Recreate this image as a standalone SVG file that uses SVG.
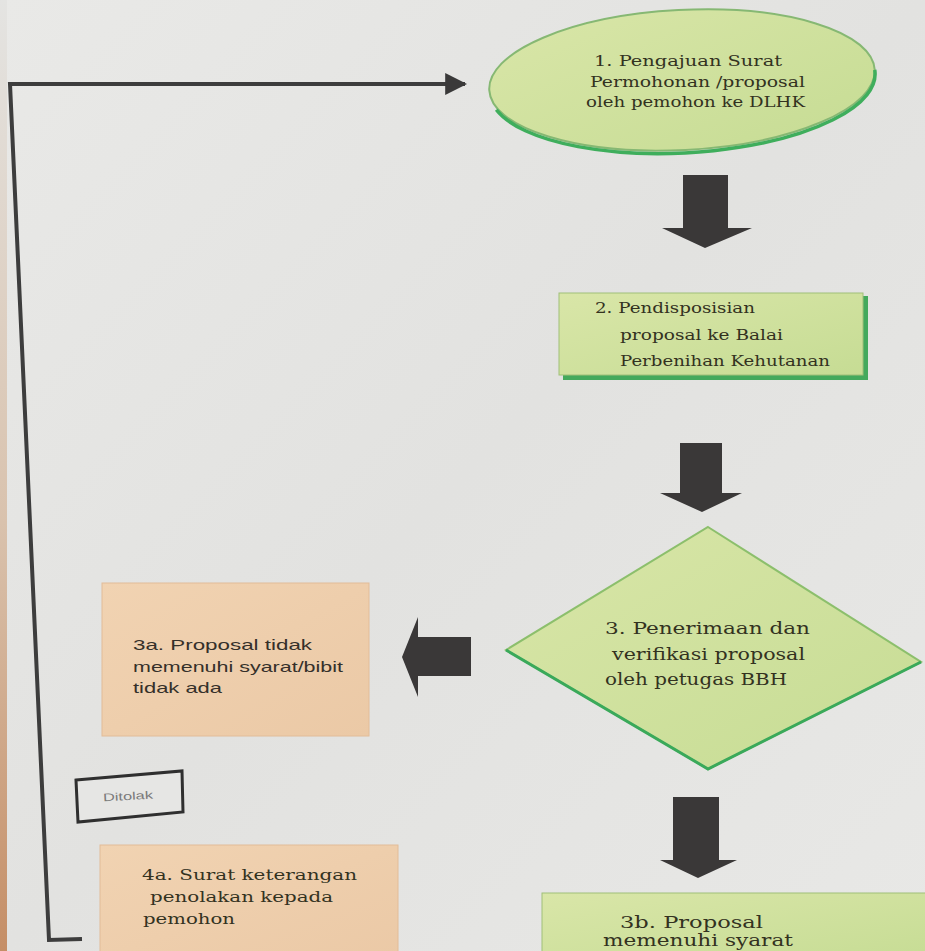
<svg xmlns="http://www.w3.org/2000/svg" width="925" height="951" viewBox="0 0 925 951">
  <defs>
    <linearGradient id="bg" x1="0" y1="0" x2="1" y2="1">
      <stop offset="0" stop-color="#e9e9e7"/>
      <stop offset="0.5" stop-color="#e2e2e0"/>
      <stop offset="1" stop-color="#e8e8e6"/>
    </linearGradient>
    <linearGradient id="green" x1="0" y1="0" x2="1" y2="1">
      <stop offset="0" stop-color="#d9e6a8"/>
      <stop offset="1" stop-color="#c6dc94"/>
    </linearGradient>
    <linearGradient id="peach" x1="0" y1="0" x2="1" y2="1">
      <stop offset="0" stop-color="#f1d3b2"/>
      <stop offset="1" stop-color="#ebc9a6"/>
    </linearGradient>
    <linearGradient id="strip" x1="0" y1="0" x2="0" y2="1">
      <stop offset="0" stop-color="#e4e4e2"/>
      <stop offset="0.55" stop-color="#d9c2ad"/>
      <stop offset="1" stop-color="#c58e66"/>
    </linearGradient>
    <marker id="head" viewBox="0 0 10 10" refX="9" refY="5" markerWidth="5.5" markerHeight="5.5" markerUnits="strokeWidth" orient="auto">
      <path d="M0,0 L10,5 L0,10 Z" fill="#3a3939"/>
    </marker>
    <style>
      .serif { font-family: "DejaVu Serif", "Liberation Serif", serif; fill: #33321f; }
      .sans { font-family: "Liberation Sans", Arial, sans-serif; fill: #35302a; }
      .blk { fill: #3a3838; }
      .conn { fill: none; stroke: #3d3d3d; stroke-width: 4; stroke-linejoin: miter; }
    </style>
  </defs>

  <rect width="925" height="951" fill="url(#bg)"/>
  <rect x="0" y="0" width="7" height="951" fill="url(#strip)"/>

  <g id="connectors">
    <polyline class="conn" points="82,939 49,940 10,84 465,84" marker-end="url(#head)"/>
    <polygon class="blk" points="683,175 728,175 728,228 752,228 705,248 662,228 683,228"/>
    <polygon class="blk" points="680,443 722,443 722,493 742,493 702,512 660,493 680,493"/>
    <polygon class="blk" points="471,637 471,676 418,676 418,697 402,657 418,617 418,637"/>
    <polygon class="blk" points="673,797 719,797 719,860 737,860 698,878 660,860 673,860"/>
  </g>

  <g id="node1">
    <g transform="rotate(-3 682 80)">
      <ellipse cx="682" cy="80" rx="193" ry="70" fill="url(#green)" stroke="#86b873" stroke-width="2"/>
      <path d="M 495 100 A 193 70 0 0 0 875 80" fill="none" stroke="#3fae5c" stroke-width="3.5"/>
    </g>
    <text class="serif" font-size="15" x="594" y="66" textLength="188" lengthAdjust="spacingAndGlyphs">1. Pengajuan Surat</text>
    <text class="serif" font-size="15" x="590" y="87" textLength="215" lengthAdjust="spacingAndGlyphs">Permohonan /proposal</text>
    <text class="serif" font-size="15" x="586" y="107" textLength="219" lengthAdjust="spacingAndGlyphs">oleh pemohon  ke DLHK</text>
  </g>

  <g id="node2">
    <rect x="563" y="296" width="305" height="84" fill="#44a95c"/>
    <rect x="559" y="293" width="304" height="82" fill="url(#green)" stroke="#9fbf78" stroke-width="1"/>
    <text class="serif" font-size="14" x="595" y="313" textLength="160" lengthAdjust="spacingAndGlyphs">2. Pendisposisian</text>
    <text class="serif" font-size="14" x="620" y="340" textLength="163" lengthAdjust="spacingAndGlyphs">proposal ke Balai</text>
    <text class="serif" font-size="14" x="620" y="366" textLength="210" lengthAdjust="spacingAndGlyphs">Perbenihan Kehutanan</text>
  </g>

  <g id="node3">
    <polygon points="708,527 921,662 708,769 506,650" fill="url(#green)" stroke="#8cbf6c" stroke-width="2"/>
    <polyline points="506,650 708,769 921,662" fill="none" stroke="#3aa95a" stroke-width="3"/>
    <text class="serif" font-size="16" x="605" y="634" textLength="205" lengthAdjust="spacingAndGlyphs">3. Penerimaan  dan</text>
    <text class="serif" font-size="16" x="612" y="660" textLength="193" lengthAdjust="spacingAndGlyphs">verifikasi proposal</text>
    <text class="serif" font-size="16" x="605" y="685" textLength="182" lengthAdjust="spacingAndGlyphs">oleh petugas BBH</text>
  </g>

  <g id="node3a">
    <rect x="102" y="583" width="267" height="153" fill="url(#peach)" stroke="#e2bc98" stroke-width="1"/>
    <text class="sans" font-size="15" x="133" y="650" textLength="179" lengthAdjust="spacingAndGlyphs">3a. Proposal tidak</text>
    <text class="sans" font-size="15" x="133" y="672" textLength="210" lengthAdjust="spacingAndGlyphs">memenuhi syarat/bibit</text>
    <text class="sans" font-size="15" x="133" y="693" textLength="89" lengthAdjust="spacingAndGlyphs">tidak ada</text>
  </g>

  <g id="ditolak">
    <polygon points="76,780 182,771 183,812 78,822" fill="#e6e6e4" stroke="#2f2f2f" stroke-width="3"/>
    <text class="sans" font-size="11" x="103" y="800" style="fill:#7a7a7a" transform="rotate(-3 128 797)" textLength="50" lengthAdjust="spacingAndGlyphs">Ditolak</text>
  </g>

  <g id="node4a">
    <rect x="100" y="845" width="298" height="115" fill="url(#peach)" stroke="#e2bc98" stroke-width="1"/>
    <text class="serif" font-size="15" x="142" y="880" textLength="215" lengthAdjust="spacingAndGlyphs">4a. Surat keterangan</text>
    <text class="serif" font-size="15" x="150" y="902" textLength="183" lengthAdjust="spacingAndGlyphs">penolakan kepada</text>
    <text class="serif" font-size="15" x="143" y="924" textLength="92" lengthAdjust="spacingAndGlyphs">pemohon</text>
  </g>

  <g id="node3b">
    <rect x="542" y="893" width="390" height="70" fill="url(#green)" stroke="#9fbf78" stroke-width="1"/>
    <text class="serif" font-size="17" x="620" y="928" textLength="143" lengthAdjust="spacingAndGlyphs">3b. Proposal</text>
    <text class="serif" font-size="16" x="603" y="946" textLength="190" lengthAdjust="spacingAndGlyphs">memenuhi syarat</text>
  </g>
</svg>
